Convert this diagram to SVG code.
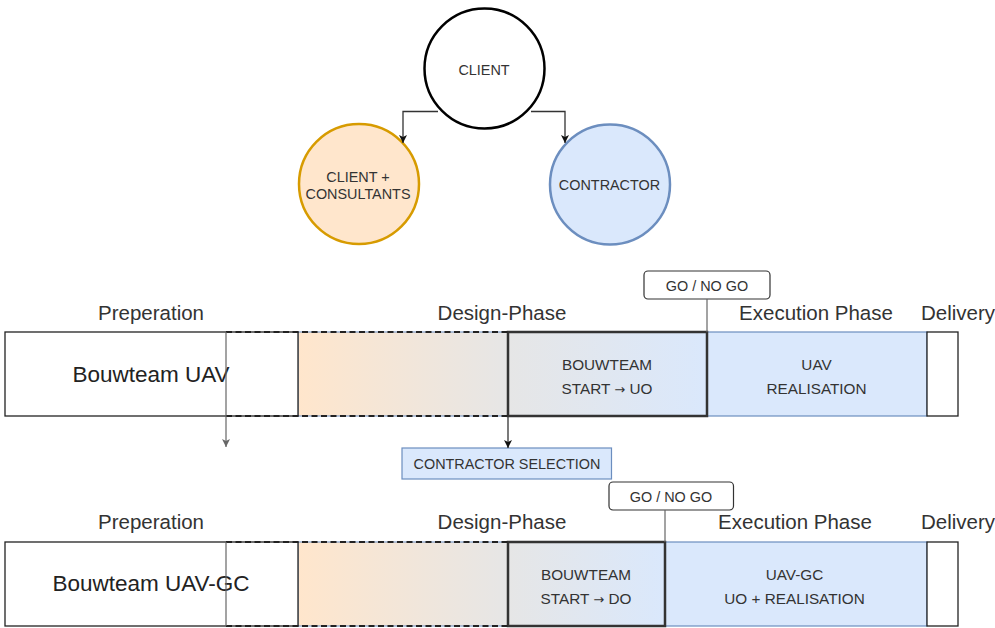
<svg xmlns="http://www.w3.org/2000/svg" width="995" height="628" viewBox="0 0 995 628">
  <defs>
    <linearGradient id="gOrangeGrey" x1="0" y1="0" x2="1" y2="0">
      <stop offset="0" stop-color="#ffe6cc"/>
      <stop offset="1" stop-color="#e6e6e6"/>
    </linearGradient>
    <linearGradient id="gGreyBlue" x1="0" y1="0" x2="1" y2="0">
      <stop offset="0" stop-color="#e6e6e6"/>
      <stop offset="1" stop-color="#dae8fc"/>
    </linearGradient>
    <marker id="arrowDark" markerWidth="10" markerHeight="10" refX="9" refY="5" orient="auto" markerUnits="userSpaceOnUse">
      <path d="M1,1 L9,5 L1,9 L3,5 Z" fill="#111"/>
    </marker>
    <marker id="arrowGrey" markerWidth="10" markerHeight="10" refX="9" refY="5" orient="auto" markerUnits="userSpaceOnUse">
      <path d="M1,1 L9,5 L1,9 L3,5 Z" fill="#666"/>
    </marker>
  </defs>
  <style>
    text { font-family: "Liberation Sans", Arial, sans-serif; fill: #333; text-anchor: middle; }
    .phase { font-size: 20.5px; }
    .title { font-size: 22.5px; fill: #222; }
    .cell { font-size: 15.3px; }
    .arr { font-family: "DejaVu Sans", sans-serif; font-size: 13px; }
    .small { font-size: 14.4px; }
    .plain { fill: #fff; stroke: #222; stroke-width: 1.3; }
    .fade { fill: url(#gOrangeGrey); stroke: #6c8ebf; stroke-width: 1; }
    .team { fill: url(#gGreyBlue); stroke: #333; stroke-width: 2.5; }
    .blue { fill: #dae8fc; stroke: #6c8ebf; stroke-width: 1.2; }
    .dash { fill: none; stroke: #222; stroke-width: 2; stroke-dasharray: 6 3.5; }
    .tick { stroke: #666; stroke-width: 1.2; fill: none; }
    .gate { fill: #fff; stroke: #333; stroke-width: 1.2; }
    .link { fill: none; stroke: #333; stroke-width: 1.3; }
  </style>

  <!-- Parties -->
  <g id="client">
    <circle cx="484.5" cy="68.5" r="60" fill="#fff" stroke="#000" stroke-width="2.5"/>
    <text class="small" x="484" y="75">CLIENT</text>
  </g>
  <g id="client-consultants">
    <circle cx="359" cy="184" r="60" fill="#ffe6cc" stroke="#d79b00" stroke-width="2.5"/>
    <text class="small" x="358" y="182">CLIENT +</text>
    <text class="small" x="358" y="198.5">CONSULTANTS</text>
  </g>
  <g id="contractor">
    <circle cx="610" cy="184.5" r="60" fill="#dae8fc" stroke="#6c8ebf" stroke-width="2.5"/>
    <text class="small" x="609.5" y="190">CONTRACTOR</text>
  </g>

  <!-- Row 1: Bouwteam UAV -->
  <g id="row1">
    <g id="row1-design-fade"><rect class="fade" x="298" y="332" width="210" height="84"/></g>
    <g id="row1-preparation">
      <rect class="plain" x="5" y="332" width="293" height="84"/>
      <text class="title" x="151" y="382">Bouwteam UAV</text>
    </g>
    <g id="row1-execution">
      <rect class="blue" x="707" y="332" width="220" height="84"/>
      <text class="cell" x="816.5" y="370">UAV</text>
      <text class="cell" x="816.5" y="394">REALISATION</text>
    </g>
    <g id="row1-delivery"><rect class="plain" x="927" y="332" width="31" height="84"/></g>
    <g id="row1-bouwteam">
      <rect class="team" x="508" y="332" width="199" height="84"/>
      <text class="cell" x="607" y="370">BOUWTEAM</text>
      <text class="cell" x="607" y="394">START <tspan class="arr">→</tspan> UO</text>
    </g>
    <g id="row1-span">
      <line class="dash" x1="226" y1="332" x2="508" y2="332"/>
      <line class="dash" x1="226" y1="416" x2="508" y2="416"/>
    </g>
    <g id="row1-labels">
      <text class="phase" x="151" y="320">Preperation</text>
      <text class="phase" x="502" y="320">Design-Phase</text>
      <text class="phase" x="816" y="320">Execution Phase</text>
      <text class="phase" x="958" y="320">Delivery</text>
    </g>
    <g id="row1-gate">
      <rect class="gate" x="644" y="271" width="126" height="28" rx="4"/>
      <text class="small" x="707" y="291">GO / NO GO</text>
    </g>
  </g>

  <g id="contractor-selection">
    <rect class="blue" x="402" y="448" width="209.5" height="31"/>
    <text class="small" x="507" y="469">CONTRACTOR SELECTION</text>
  </g>

  <!-- Row 2: Bouwteam UAV-GC -->
  <g id="row2">
    <g id="row2-design-fade"><rect class="fade" x="298" y="542" width="210" height="84"/></g>
    <g id="row2-preparation">
      <rect class="plain" x="5" y="542" width="293" height="84"/>
      <text class="title" x="151" y="591">Bouwteam UAV-GC</text>
    </g>
    <g id="row2-execution">
      <rect class="blue" x="665" y="542" width="262" height="84"/>
      <text class="cell" x="794.5" y="580">UAV-GC</text>
      <text class="cell" x="794.5" y="604">UO + REALISATION</text>
    </g>
    <g id="row2-delivery"><rect class="plain" x="927" y="542" width="31" height="84"/></g>
    <g id="row2-bouwteam">
      <rect class="team" x="508" y="542" width="157" height="84"/>
      <text class="cell" x="586" y="580">BOUWTEAM</text>
      <text class="cell" x="586" y="604">START <tspan class="arr">→</tspan> DO</text>
    </g>
    <g id="row2-span">
      <line class="dash" x1="226" y1="542" x2="508" y2="542"/>
      <line class="dash" x1="226" y1="626" x2="508" y2="626"/>
      <line class="tick" x1="226" y1="542" x2="226" y2="626"/>
    </g>
    <g id="row2-labels">
      <text class="phase" x="151" y="529">Preperation</text>
      <text class="phase" x="502" y="529">Design-Phase</text>
      <text class="phase" x="795" y="529">Execution Phase</text>
      <text class="phase" x="958" y="529">Delivery</text>
    </g>
    <g id="row2-gate">
      <rect class="gate" x="609" y="482" width="124.5" height="28" rx="4"/>
      <text class="small" x="671" y="502">GO / NO GO</text>
    </g>
  </g>

  <!-- Connectors -->
  <g id="connectors">
    <path class="link" d="M438,111.5 H403 V143" marker-end="url(#arrowDark)"/>
    <path class="link" d="M531,111.5 H565 V143" marker-end="url(#arrowDark)"/>
    <path class="tick" d="M226,332 V447" marker-end="url(#arrowGrey)"/>
    <path class="link" d="M508,416 V448" marker-end="url(#arrowDark)"/>
    <path class="tick" d="M707,299 V332"/>
    <path class="tick" d="M665,510 V542"/>
  </g>
</svg>
